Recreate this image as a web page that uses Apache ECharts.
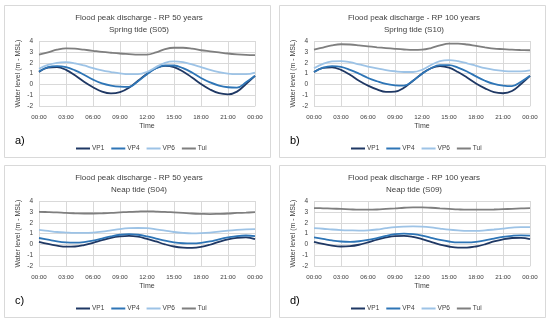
<!DOCTYPE html>
<html><head><meta charset="utf-8">
<script src="https://cdn.jsdelivr.net/npm/echarts@6/dist/echarts.min.js"></script>
<style>html,body{margin:0;padding:0;background:#fff}#c{width:550px;height:323px}</style>
</head><body><div id="c"></div>
<script>
// Hours 0..24
var hours = [0,1,2,3,4,5,6,7,8,9,10,11,12,13,14,15,16,17,18,19,20,21,22,23,24];
var tickHours = [0,3,6,9,12,15,18,21,24];
var seriesNames = ['VP1','VP4','VP6','Tui'];
var panelLetters = ['a)','b)','c)','d)'];
var titles1 = ['Flood peak discharge - RP 50 years','Flood peak discharge - RP 100 years','Flood peak discharge - RP 50 years','Flood peak discharge - RP 100 years'];
var titles2 = ['Spring tide (S05)','Spring tide (S10)','Neap tide (S04)','Neap tide (S09)'];

// Panel a
var vp1A = [1.15,1.55,1.6,1.35,0.85,0.25,-0.25,-0.65,-0.82,-0.7,-0.3,0.35,1.0,1.5,1.72,1.6,1.2,0.65,0.05,-0.45,-0.8,-0.9,-0.65,0.05,0.8];
var vp4A = [1.2,1.6,1.7,1.6,1.3,0.9,0.45,0.1,-0.1,-0.2,-0.22,0.3,0.95,1.5,1.75,1.75,1.5,1.1,0.6,0.2,-0.1,-0.25,-0.28,0.2,0.8];
var vp6A = [1.45,1.8,2.0,2.05,1.95,1.75,1.5,1.3,1.15,1.02,0.95,0.95,1.15,1.6,2.0,2.12,2.05,1.85,1.6,1.35,1.15,1.0,0.95,0.95,1.1];
var tuiA = [2.75,2.95,3.2,3.33,3.3,3.2,3.1,3.0,2.92,2.85,2.8,2.75,2.75,2.95,3.25,3.38,3.38,3.3,3.15,3.05,2.95,2.85,2.78,2.73,2.7];
// Panel b
var vp1B = [1.15,1.52,1.58,1.35,0.9,0.35,-0.1,-0.45,-0.68,-0.65,-0.3,0.35,1.0,1.5,1.7,1.55,1.15,0.65,0.1,-0.35,-0.7,-0.8,-0.6,0.05,0.8];
var vp4B = [1.15,1.55,1.7,1.62,1.35,1.0,0.6,0.3,0.05,-0.07,-0.1,0.35,1.0,1.5,1.78,1.78,1.55,1.2,0.75,0.35,0.05,-0.1,-0.15,0.25,0.8];
var vp6B = [1.5,1.9,2.12,2.15,2.05,1.85,1.65,1.48,1.33,1.22,1.15,1.15,1.35,1.8,2.15,2.25,2.15,1.95,1.72,1.5,1.35,1.25,1.2,1.2,1.3];
var tuiB = [3.2,3.4,3.6,3.7,3.68,3.6,3.5,3.42,3.35,3.28,3.22,3.18,3.2,3.35,3.6,3.75,3.75,3.68,3.55,3.42,3.3,3.25,3.2,3.17,3.15];
// Panel c
var vp1C = [0.25,0.05,-0.1,-0.2,-0.18,-0.05,0.15,0.4,0.62,0.75,0.8,0.72,0.52,0.28,0.02,-0.18,-0.28,-0.3,-0.22,-0.02,0.25,0.48,0.62,0.65,0.5];
var vp4C = [0.6,0.45,0.3,0.2,0.17,0.22,0.35,0.55,0.75,0.9,0.95,0.9,0.75,0.55,0.35,0.2,0.12,0.1,0.15,0.28,0.48,0.65,0.78,0.83,0.78];
var vp6C = [1.35,1.25,1.15,1.1,1.07,1.07,1.1,1.18,1.3,1.42,1.5,1.52,1.5,1.4,1.28,1.15,1.07,1.03,1.05,1.1,1.18,1.28,1.35,1.4,1.42];
var tuiC = [3.0,2.98,2.95,2.9,2.87,2.85,2.85,2.87,2.9,2.95,3.0,3.03,3.05,3.03,3.0,2.95,2.9,2.85,2.82,2.8,2.82,2.85,2.9,2.93,2.97];
// Panel d
var vp1D = [0.25,0.05,-0.1,-0.18,-0.15,-0.02,0.2,0.45,0.65,0.78,0.8,0.7,0.5,0.25,0.0,-0.18,-0.28,-0.28,-0.18,0.02,0.28,0.48,0.6,0.62,0.5];
var vp4D = [0.65,0.52,0.38,0.28,0.25,0.3,0.42,0.6,0.8,0.95,1.0,0.95,0.82,0.62,0.42,0.28,0.2,0.2,0.25,0.38,0.55,0.7,0.8,0.85,0.82];
var vp6D = [1.5,1.45,1.38,1.33,1.3,1.28,1.3,1.38,1.5,1.6,1.65,1.67,1.65,1.58,1.47,1.37,1.3,1.25,1.25,1.3,1.38,1.47,1.55,1.6,1.6];
var tuiD = [3.35,3.33,3.3,3.27,3.23,3.2,3.2,3.22,3.27,3.32,3.38,3.42,3.42,3.38,3.33,3.28,3.23,3.2,3.2,3.2,3.22,3.25,3.28,3.32,3.35];

var panels = [[vp1A,vp4A,vp6A,tuiA],[vp1B,vp4B,vp6B,tuiB],[vp1C,vp4C,vp6C,tuiC],[vp1D,vp4D,vp6D,tuiD]];
var colors = ['#1f3864','#2e75b6','#9dc3e6','#7f7f7f'];
var FONT = 'Liberation Sans';
var TXT = '#404040';

function fmtHour(v){ var h = v % 24; return (h<10?'0':'')+h+':00'; }

var offsets = [[0,0],[275,0],[0,160],[275,160]];
var grids=[], xAxes=[], yAxes=[], series=[], titles=[], legends=[], graphics=[];
offsets.forEach(function(o,i){
  var dx=o[0], dy=o[1];
  graphics.push({type:'rect', z:-10, shape:{x:dx+4.5,y:dy+5.5,width:266,height:152}, style:{fill:'#fff',stroke:'#d9d9d9',lineWidth:1}});
  graphics.push({type:'text', left:dx+15, top:dy+135, style:{text:panelLetters[i], font:'11px '+FONT, fill:'#000'}});
  grids.push({left:dx+39, top:dy+41, width:216, height:65.3});
  xAxes.push({type:'value', gridIndex:i, min:0, max:24, interval:3,
    name:'Time', nameLocation:'middle', nameGap:16,
    nameTextStyle:{fontFamily:FONT, fontSize:7, color:TXT},
    axisLine:{show:false}, axisTick:{show:false},
    splitLine:{show:true, lineStyle:{color:'#d9d9d9', width:1}},
    axisLabel:{formatter:fmtHour, fontFamily:FONT, fontSize:6.2, color:TXT, margin:8, showMinLabel:true, showMaxLabel:true}});
  yAxes.push({type:'value', gridIndex:i, min:-2, max:4, interval:1,
    name:'Water level (m - MSL)', nameLocation:'middle', nameGap:17, nameRotate:90,
    nameTextStyle:{fontFamily:FONT, fontSize:7, color:TXT},
    axisLine:{show:false}, axisTick:{show:false},
    splitLine:{show:true, lineStyle:{color:'#d9d9d9', width:1}},
    axisLabel:{fontFamily:FONT, fontSize:6.5, color:TXT, margin:6}});
  titles.push({text:titles1[i]+'\n'+titles2[i], left:dx+134, top:dy+6.5, textAlign:'center',
    textStyle:{fontFamily:FONT, fontSize:8, fontWeight:'normal', color:TXT, lineHeight:12.3}});
  legends.push({data:seriesNames, left:dx+76, top:dy+145, padding:0, itemWidth:14, itemHeight:2, itemGap:7, icon:'rect',
    textStyle:{fontFamily:FONT, fontSize:6.5, color:TXT, padding:[0,0,0,-3]}, selectedMode:false});
  panels[i].forEach(function(arr,k){
    series.push({type:'line', name:seriesNames[k], xAxisIndex:i, yAxisIndex:i, smooth:0.4, showSymbol:false,
      lineStyle:{color:colors[k], width:1.8}, itemStyle:{color:colors[k]},
      data: hours.map(function(h,j){return [h, arr[j]];})});
  });
});

var chart = echarts.init(document.getElementById('c'), null, {renderer:'canvas'});
chart.setOption({backgroundColor:'#fff', animation:false, grid:grids, xAxis:xAxes, yAxis:yAxes,
  series:series, title:titles, legend:legends, graphic:graphics});
</script></body></html>
